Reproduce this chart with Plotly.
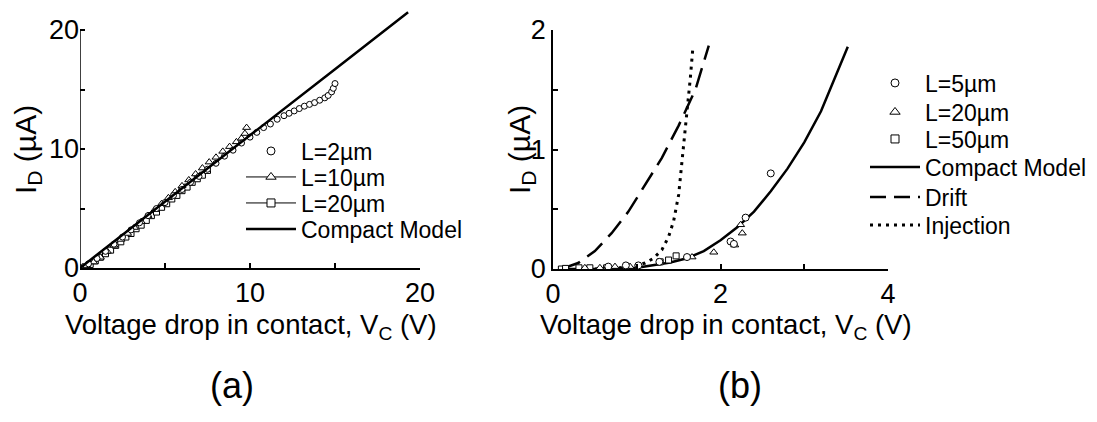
import plotly.graph_objects as go

# ---------------- Panel (a) data ----------------
a_L2_x = [0.0, 0.5, 1.0, 1.5, 2.0, 2.5, 3.0, 3.5, 4.0, 4.5, 5.0, 5.5, 6.0, 6.5, 7.0, 7.5, 8.0, 8.5, 9.0, 9.5,
          10.0, 10.4, 10.8, 11.2, 11.6, 12.0, 12.3, 12.6, 12.9, 13.2, 13.5, 13.8, 14.1, 14.4, 14.6, 14.8, 14.9, 15.0]
a_L2_y = [0.0, 0.35, 0.8, 1.4, 2.0, 2.6, 3.2, 3.8, 4.4, 5.0, 5.5, 6.1, 6.6, 7.2, 7.7, 8.3, 8.8, 9.4, 9.9, 10.5,
          11.0, 11.4, 11.8, 12.1, 12.5, 12.8, 13.0, 13.2, 13.4, 13.6, 13.75, 13.9, 14.1, 14.3, 14.5, 14.8, 15.1, 15.5]

a_L10_x = [0.0, 0.4, 0.8, 1.2, 1.6, 2.0, 2.4, 2.8, 3.2, 3.6, 4.0, 4.4, 4.8, 5.2, 5.6, 6.0, 6.4, 6.8, 7.2, 7.6,
           8.0, 8.4, 8.8, 9.2, 9.5, 9.7, 9.8]
a_L10_y = [0.0, 0.2, 0.5, 0.9, 1.4, 1.9, 2.4, 2.9, 3.4, 3.9, 4.4, 4.9, 5.4, 5.9, 6.4, 6.9, 7.4, 7.9, 8.4, 8.9,
           9.3, 9.8, 10.2, 10.6, 10.9, 11.3, 11.8]

a_L20_x = [0.0, 0.3, 0.6, 0.9, 1.2, 1.5, 1.8, 2.1, 2.4, 2.7, 3.0, 3.3, 3.6, 3.9, 4.2, 4.5, 4.8, 5.1, 5.4, 5.7,
           6.0, 6.3, 6.6, 6.9, 7.2, 7.5]
a_L20_y = [0.0, 0.1, 0.3, 0.6, 0.9, 1.2, 1.5, 1.9, 2.2, 2.6, 2.9, 3.3, 3.6, 4.0, 4.4, 4.7, 5.1, 5.4, 5.8, 6.1,
           6.5, 6.8, 7.2, 7.5, 7.8, 8.2]

a_model_x = [0.0, 5.0, 10.0, 15.0, 19.3]
a_model_y = [0.0, 5.6, 11.15, 16.7, 21.5]

# ---------------- Panel (b) data ----------------
b_L5_x = [0.66, 0.87, 1.02, 1.27, 1.6, 2.12, 2.16, 2.3, 2.6]
b_L5_y = [0.02, 0.03, 0.03, 0.06, 0.1, 0.23, 0.21, 0.43, 0.8]

b_L20_x = [0.38, 0.56, 0.65, 0.74, 0.92, 1.66, 1.92, 2.17, 2.26, 2.24]
b_L20_y = [0.01, 0.01, 0.015, 0.02, 0.02, 0.1, 0.14, 0.2, 0.3, 0.37]

b_L50_x = [0.1, 0.15, 0.31, 0.44, 0.64, 1.28, 1.38, 1.47]
b_L50_y = [0.0, 0.005, 0.01, 0.01, 0.01, 0.06, 0.075, 0.11]

b_model_x = [0.1, 0.6, 1.0, 1.2, 1.4, 1.6, 1.8, 2.0, 2.2, 2.4, 2.6, 2.8, 3.0, 3.2, 3.4, 3.52]
b_model_y = [0.0, 0.0, 0.01, 0.03, 0.055, 0.09, 0.15, 0.24, 0.35, 0.48, 0.65, 0.84, 1.06, 1.32, 1.65, 1.86]

b_drift_x = [0.1, 0.3, 0.5, 0.7, 0.9, 1.1, 1.3, 1.5, 1.7, 1.86]
b_drift_y = [0.0, 0.05, 0.15, 0.3, 0.48, 0.7, 0.93, 1.2, 1.5, 1.87]

b_inj_x = [0.5, 0.8, 1.0, 1.1, 1.2, 1.3, 1.38, 1.44, 1.5, 1.55, 1.6, 1.64, 1.67]
b_inj_y = [0.0, 0.01, 0.03, 0.05, 0.09, 0.16, 0.27, 0.4, 0.62, 0.95, 1.33, 1.6, 1.85]

a_xticks = [0, 10, 20]
a_yticks = [0, 10, 20]
b_xticks = [0, 2, 4]
b_yticks = [0, 1, 2]

a_legend_names = ["L=2µm", "L=10µm", "L=20µm", "Compact Model"]
b_legend_names = ["L=5µm", "L=20µm", "L=50µm", "Compact Model", "Drift", "Injection"]

W, H = 1097, 422
FONT = "Liberation Sans, Arial, sans-serif"
BLACK = "#000000"
DRIFT_DASH = "20px,9px"
INJ_DASH = "3px,5px"


def px_x(p):
    return p / W


def px_y(p):
    return 1 - p / H


fig = go.Figure()


def mk(symbol, size):
    return dict(symbol=symbol, size=size, color="white", line=dict(color=BLACK, width=1))


# ---- panel a data traces
fig.add_trace(go.Scatter(x=a_L20_x, y=a_L20_y, mode="markers", marker=mk("square", 6),
                         xaxis="x", yaxis="y", showlegend=False, hoverinfo="skip"))
fig.add_trace(go.Scatter(x=a_L10_x, y=a_L10_y, mode="markers", marker=mk("triangle-up", 7),
                         xaxis="x", yaxis="y", showlegend=False, hoverinfo="skip"))
fig.add_trace(go.Scatter(x=a_L2_x, y=a_L2_y, mode="markers", marker=mk("circle", 6),
                         xaxis="x", yaxis="y", showlegend=False, hoverinfo="skip"))
fig.add_trace(go.Scatter(x=a_model_x, y=a_model_y, mode="lines", line=dict(color=BLACK, width=2.5),
                         xaxis="x", yaxis="y", showlegend=False, hoverinfo="skip"))

# ---- panel b data traces
fig.add_trace(go.Scatter(x=b_model_x, y=b_model_y, mode="lines", line=dict(color=BLACK, width=2.5),
                         xaxis="x2", yaxis="y2", showlegend=False, hoverinfo="skip"))
fig.add_trace(go.Scatter(x=b_drift_x, y=b_drift_y, mode="lines", line=dict(color=BLACK, width=2.5, dash=DRIFT_DASH),
                         xaxis="x2", yaxis="y2", showlegend=False, hoverinfo="skip"))
fig.add_trace(go.Scatter(x=b_inj_x, y=b_inj_y, mode="lines", line=dict(color=BLACK, width=3, dash=INJ_DASH),
                         xaxis="x2", yaxis="y2", showlegend=False, hoverinfo="skip"))
fig.add_trace(go.Scatter(x=b_L50_x, y=b_L50_y, mode="markers", marker=mk("square", 6),
                         xaxis="x2", yaxis="y2", showlegend=False, hoverinfo="skip"))
fig.add_trace(go.Scatter(x=b_L20_x, y=b_L20_y, mode="markers", marker=mk("triangle-up", 7),
                         xaxis="x2", yaxis="y2", showlegend=False, hoverinfo="skip"))
fig.add_trace(go.Scatter(x=b_L5_x, y=b_L5_y, mode="markers", marker=mk("circle", 7),
                         xaxis="x2", yaxis="y2", showlegend=False, hoverinfo="skip"))

# ---- legend entries (one legend per row so row spacing matches the reference)
a_legend_styles = [
    dict(mode="markers", marker=mk("circle", 8)),
    dict(mode="lines+markers", marker=mk("triangle-up", 9), line=dict(color=BLACK, width=1)),
    dict(mode="lines+markers", marker=mk("square", 8), line=dict(color=BLACK, width=1)),
    dict(mode="lines", line=dict(color=BLACK, width=2.5)),
]
b_legend_styles = [
    dict(mode="markers", marker=mk("circle", 8)),
    dict(mode="markers", marker=mk("triangle-up", 9)),
    dict(mode="markers", marker=mk("square", 8)),
    dict(mode="lines", line=dict(color=BLACK, width=2.5)),
    dict(mode="lines", line=dict(color=BLACK, width=2.5, dash="16px,8px")),
    dict(mode="lines", line=dict(color=BLACK, width=3, dash=INJ_DASH)),
]
a_legend_rows = [151, 177, 203, 229]
b_legend_rows = [83, 112, 139, 167, 197, 225]
LEGFONT = dict(family=FONT, size=23, color=BLACK)

legend_layout = {}
k = 0
for names, styles, rows, left, xa, ya in [
    (a_legend_names, a_legend_styles, a_legend_rows, 241, "x", "y"),
    (b_legend_names, b_legend_styles, b_legend_rows, 865, "x2", "y2"),
]:
    for name, style, row in zip(names, styles, rows):
        k += 1
        lid = "legend" if k == 1 else f"legend{k}"
        fig.add_trace(go.Scatter(x=[None], y=[None], name=name, legend=lid, xaxis=xa, yaxis=ya, **style))
        legend_layout[lid] = dict(x=px_x(left), y=px_y(row), xanchor="left", yanchor="middle",
                                  bgcolor="rgba(0,0,0,0)", borderwidth=0, itemwidth=50,
                                  font=LEGFONT)

TICKFONT = dict(family=FONT, size=27, color=BLACK)

common_x = dict(showgrid=False, zeroline=False, showline=True, linecolor=BLACK, linewidth=1.5,
                ticks="inside", ticklen=5, tickwidth=1.5, tickcolor=BLACK, tickfont=TICKFONT,
                fixedrange=True)
common_y = dict(showgrid=False, zeroline=False, ticks="inside", ticklen=5, tickwidth=1.5,
                tickcolor=BLACK, tickfont=TICKFONT, fixedrange=True)

fig.update_layout(
    width=W, height=H,
    margin=dict(l=0, r=0, t=0, b=0, autoexpand=False),
    paper_bgcolor="white", plot_bgcolor="white",
    font=dict(family=FONT, color=BLACK),
    xaxis=dict(domain=[px_x(80), px_x(420)], range=[0, 20], anchor="y",
               tickvals=a_xticks, minor=dict(dtick=5, tick0=0, ticks="inside", ticklen=5,
                                               tickwidth=1.5, tickcolor=BLACK),
               **common_x),
    yaxis=dict(domain=[px_y(268), px_y(8.6)], range=[0, 21.8], anchor="x",
               tickvals=a_yticks, showline=False,
               minor=dict(tickvals=[5, 15], ticks="inside", ticklen=5, tickwidth=1.5, tickcolor=BLACK),
               **common_y),
    xaxis2=dict(domain=[px_x(553), px_x(888)], range=[0, 4], anchor="y2",
                tickvals=b_xticks, minor=dict(dtick=1, tick0=0, ticks="inside", ticklen=5,
                                                tickwidth=1.5, tickcolor=BLACK),
                **common_x),
    yaxis2=dict(domain=[px_y(269), px_y(30)], range=[0, 2], anchor="x2",
                tickvals=b_yticks, showline=True, linecolor=BLACK, linewidth=1.5,
                minor=dict(dtick=0.5, tick0=0, ticks="inside", ticklen=5, tickwidth=1.5, tickcolor=BLACK),
                **common_y),
    **legend_layout,
)

# y-axis line of panel (a) only up to the 20 tick
fig.add_shape(type="line", xref="x", yref="y", x0=0, x1=0, y0=0, y1=a_yticks[-1],
              line=dict(color=BLACK, width=1.5))

TITLE = dict(family=FONT, size=27.5, color=BLACK)
YTITLE = dict(family=FONT, size=30, color=BLACK)
xtitle = "Voltage drop in contact, V<sub>C</sub> (V)"
ytitle = "I<sub>D</sub> (µA)"
fig.add_annotation(text=xtitle, x=px_x(251), y=px_y(326), xref="paper", yref="paper",
                   showarrow=False, font=TITLE, xanchor="center", yanchor="middle")
fig.add_annotation(text=xtitle, x=px_x(726), y=px_y(326), xref="paper", yref="paper",
                   showarrow=False, font=TITLE, xanchor="center", yanchor="middle")
fig.add_annotation(text=ytitle, x=px_x(27), y=px_y(150), xref="paper", yref="paper",
                   showarrow=False, font=YTITLE, textangle=-90, xanchor="center", yanchor="middle")
fig.add_annotation(text=ytitle, x=px_x(521), y=px_y(150), xref="paper", yref="paper",
                   showarrow=False, font=YTITLE, textangle=-90, xanchor="center", yanchor="middle")
fig.add_annotation(text="(a)", x=px_x(232), y=px_y(385), xref="paper", yref="paper",
                   showarrow=False, font=dict(family=FONT, size=36, color=BLACK),
                   xanchor="center", yanchor="middle")
fig.add_annotation(text="(b)", x=px_x(740), y=px_y(385), xref="paper", yref="paper",
                   showarrow=False, font=dict(family=FONT, size=36, color=BLACK),
                   xanchor="center", yanchor="middle")

fig.write_html("out.html")
